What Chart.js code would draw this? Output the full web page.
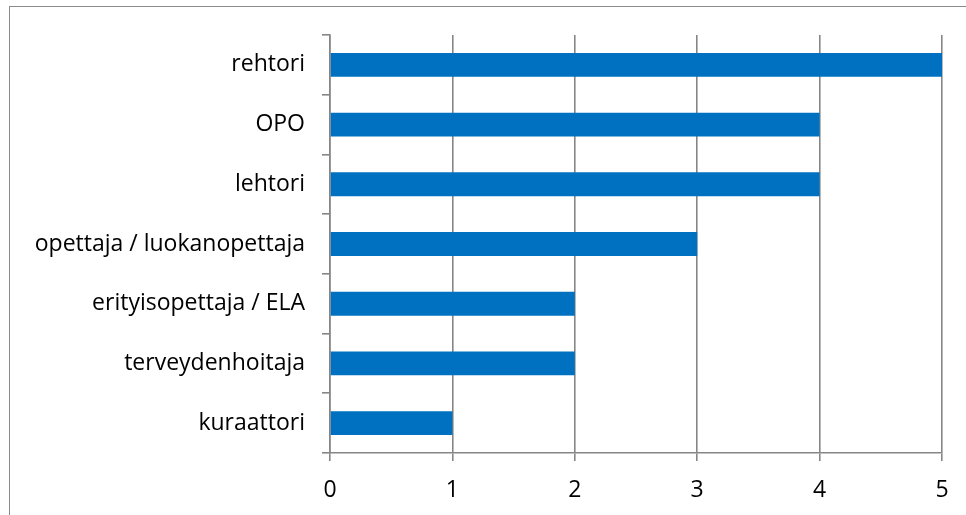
<!DOCTYPE html>
<html>
<head>
<meta charset="utf-8">
<script src="https://cdn.jsdelivr.net/npm/chart.js@4/dist/chart.umd.min.js"></script>
<style>
  html, body { margin: 0; padding: 0; background: #fff; }
  #wrap { position: relative; width: 966px; height: 515px; overflow: hidden; }
  #frame { position: absolute; left: 9px; top: 6px; width: 1000px; height: 600px; border: 1px solid #8a8a8a; box-sizing: border-box; }
  canvas { position: absolute; left: 0; top: 0; }
</style>
</head>
<body>
<div id="wrap">
  <div id="frame"></div>
  <canvas id="c" width="966" height="515"></canvas>
</div>
<script>
const categories = ["rehtori", "OPO", "lehtori", "opettaja / luokanopettaja", "erityisopettaja / ELA", "terveydenhoitaja", "kuraattori"];
const values = [5, 4, 4, 3, 2, 2, 1];
const xTicks = [0, 1, 2, 3, 4, 5];

const FONT = "'Open Sans', Lato, sans-serif";
const GRID = "#868686";

new Chart(document.getElementById("c"), {
  type: "bar",
  data: {
    labels: categories,
    datasets: [{
      data: values,
      backgroundColor: "#0070C0",
      borderWidth: 0,
      barPercentage: 0.4,
      categoryPercentage: 1
    }]
  },
  options: {
    indexAxis: "y",
    responsive: false,
    animation: false,
    layout: { padding: { left: 0, top: 35, right: 24, bottom: 0 } },
    plugins: { legend: { display: false }, tooltip: { enabled: false } },
    scales: {
      x: {
        min: 0, max: 5,
        afterBuildTicks: s => { s.ticks = xTicks.map(v => ({ value: v })); },
        afterFit: s => { s.height = 515 - 453; },
        grid: { color: GRID, lineWidth: 1.6, tickLength: 8, drawTicks: true },
        border: { color: GRID, width: 1.6 },
        ticks: { color: "#000", padding: 16, font: { family: FONT, size: 23 } }
      },
      y: {
        afterFit: s => { s.width = 330; },
        grid: { display: true, drawOnChartArea: false, drawTicks: true, tickLength: 8, offset: true, color: GRID, lineWidth: 1.6 },
        border: { color: GRID, width: 1.6 },
        ticks: { color: "#000", padding: 17, font: { family: FONT, size: 23 } }
      }
    }
  }
});
</script>
</body>
</html>
